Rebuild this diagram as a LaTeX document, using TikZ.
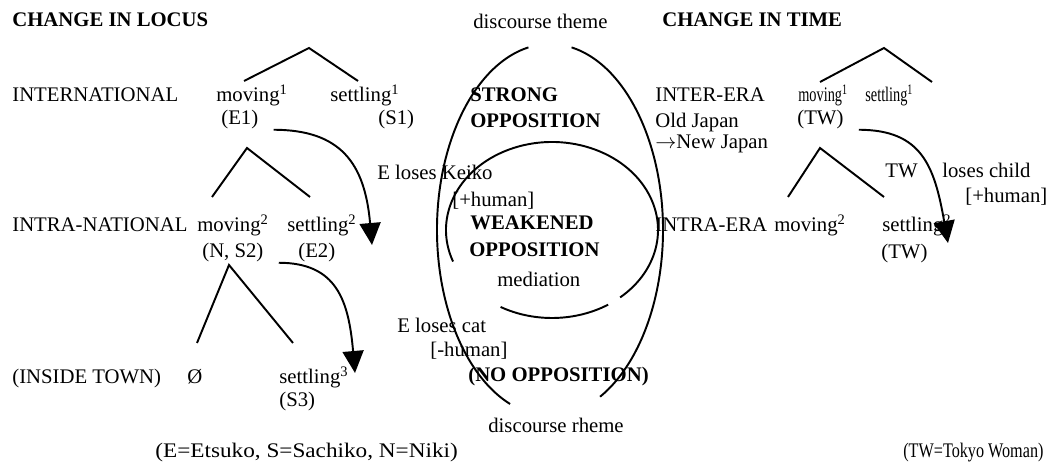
\documentclass[tikz,border=0pt]{standalone}
\usepackage{fontspec}
\setmainfont{Liberation Serif}
\newfontfamily\narrowserif[FakeStretch=0.69]{Liberation Serif}
\newfontfamily\slimserif[FakeStretch=0.78]{Liberation Serif}
\newfontfamily\wideserif[FakeStretch=1.12]{Liberation Serif}
\usepackage{tikz}
\usetikzlibrary{arrows.meta}

\begin{document}
\begin{tikzpicture}[
    x=0.2mm, y=-0.2mm,
    font=\fontsize{11.8}{13.6}\selectfont,
    lbl/.style={anchor=base west, inner sep=0pt},
    head/.style={lbl, font=\fontsize{11.8}{13.6}\selectfont\bfseries},
    branch/.style={line width=1.1pt},
    ring/.style={line width=1.1pt},
    outer/.style={x radius=2.26cm, y radius=3.72cm},
    inner/.style={x radius=2.12cm, y radius=1.76cm},
    arrow/.style={line width=1.1pt, looseness=1.3, shorten <=3mm, -{Triangle[length=4.4mm, width=4.2mm]}}
]
    \useasboundingbox (0,0) rectangle (1050,466);

    % headings and the two ends of the discourse
    \node (locus) [head] at (12,27) {CHANGE IN LOCUS};
    \node (time) [head] at (662,27) {CHANGE IN TIME};
    \node (theme) [lbl] at (473,29) {discourse theme};
    \node (rheme) [lbl] at (488,433) {discourse rheme};

    % locus: first level
    \node (intl) [lbl] at (12,102) {INTERNATIONAL};
    \node (mov1) [lbl] at (216,102) {moving\textsuperscript{1}};
    \node (set1) [lbl] at (330,102) {settling\textsuperscript{1}};
    \node (e1) [lbl] at (221,125) {(E1)};
    \node (s1) [lbl] at (378,125) {(S1)};

    % locus: second level
    \node (intra) [lbl] at (12,232) {INTRA-NATIONAL};
    \node (mov2) [lbl] at (197,232) {moving\textsuperscript{2}};
    \node (set2) [lbl] at (287,232) {settling\textsuperscript{2}};
    \node (ns2) [lbl] at (202,258) {(N, S2)};
    \node (e2) [lbl] at (298,258) {(E2)};

    % locus: third level
    \node (town) [lbl] at (12,384) {(INSIDE TOWN)};
    \node (none) [lbl] at (187,384) {Ø};
    \node (set3) [lbl] at (279,384) {settling\textsuperscript{3}};
    \node (s3) [lbl] at (279,407) {(S3)};
    \node (keyl) [lbl, font=\fontsize{11.8}{13.6}\wideserif] at (155,458) {(E=Etsuko, S=Sachiko, N=Niki)};

    % trees on the left
    \coordinate (ap1) at (309,48);
    \coordinate (l1) at (244,81);
    \coordinate (r1) at (358,81);
    \draw[branch] (l1) -- (ap1) -- (r1);
    \coordinate (ap2) at (247,148);
    \coordinate (l2) at (212,197);
    \coordinate (r2) at (310,197);
    \draw[branch] (l2) -- (ap2) -- (r2);
    \coordinate (ap3) at (229,265);
    \coordinate (l3) at (197,343);
    \coordinate (r3) at (293,343);
    \draw[branch] (l3) -- (ap3) -- (r3);

    % oppositions in the middle
    \node (strong) [head] at (470,102) {STRONG};
    \node (strong2) [head] at (470,128) {OPPOSITION};
    \node (weak) [head] at (470,230) {WEAKENED};
    \node (weak2) [head] at (469,257) {OPPOSITION};
    \node (medi) [lbl] at (497,287) {mediation};
    \node (noopp) [head] at (468,382) {(NO OPPOSITION)};
    \node (keiko) [lbl] at (377,180) {E loses Keiko};
    \node (hum1) [lbl] at (452,207) {[+human]};
    \node (cat) [lbl] at (397,333) {E loses cat};
    \node (hum2) [lbl] at (430,357) {[-human]};

    \coordinate (oc) at (550,230);
    \coordinate (ic) at (552,230);
    \draw[ring] (oc) ++(101:2.26cm and 3.72cm) arc[start angle=101, end angle=249.3, outer];
    \draw[ring] (oc) ++(79:2.26cm and 3.72cm) arc[start angle=79, end angle=-63.7, outer];
    \draw[ring] (ic) ++(201:2.12cm and 1.76cm) arc[start angle=201, end angle=-50, inner];
    \draw[ring] (ic) ++(241:2.12cm and 1.76cm) arc[start angle=241, end angle=302, inner];

    % time: first level
    \node (era) [lbl] at (655,102) {INTER-ERA};
    \node (old) [lbl] at (655,128) {Old Japan};
    \node (new) [lbl] at (655,149) {$\rightarrow$New Japan};
    \node (tmov1) [lbl, font=\fontsize{11.8}{13.6}\narrowserif] at (798,102) {moving\textsuperscript{1}};
    \node (tset1) [lbl, font=\fontsize{11.8}{13.6}\narrowserif] at (865,102) {settling\textsuperscript{1}};
    \node (tw1) [lbl] at (797,125) {(TW)};
    \node (tw) [lbl] at (885,178) {TW};
    \node (child) [lbl] at (942,178) {loses child};
    \node (hum3) [lbl] at (965,203) {[+human]};

    % time: second level
    \node (intraera) [lbl] at (655,232) {INTRA-ERA};
    \node (tmov2) [lbl] at (774,232) {moving\textsuperscript{2}};
    \node (tset2) [lbl] at (882,232) {settling\textsuperscript{2}};
    \node (tw2) [lbl] at (881,259) {(TW)};
    \node (keyr) [lbl, font=\fontsize{11.8}{13.6}\slimserif] at (903,458) {(TW=Tokyo Woman)};

    % trees on the right
    \coordinate (ap4) at (884,48);
    \coordinate (l4) at (820,82);
    \coordinate (r4) at (932,82);
    \draw[branch] (l4) -- (ap4) -- (r4);
    \coordinate (ap5) at (820,148);
    \coordinate (l5) at (788,197);
    \coordinate (r5) at (884,197);
    \draw[branch] (l5) -- (ap5) -- (r5);

    % losses
    \coordinate (tip1) at (372,245);
    \coordinate (tip2) at (355,373);
    \coordinate (tip3) at (948,243);
    \draw[arrow] (e1.south east) to[out=0, in=95] (tip1);
    \draw[arrow] (ns2.south east) to[out=0, in=95] (tip2);
    \draw[arrow] (tw1.south east) to[out=0, in=100] (tip3);
\end{tikzpicture}
\end{document}
